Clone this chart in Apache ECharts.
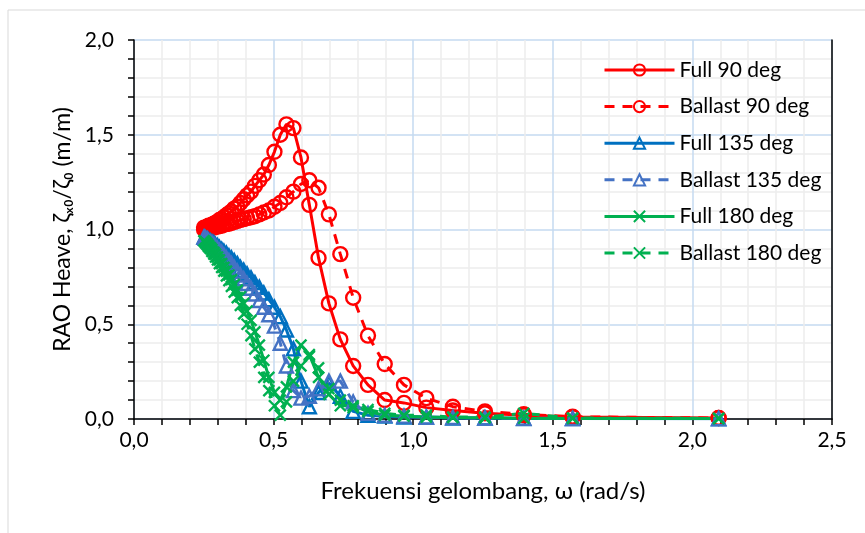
<!DOCTYPE html>
<html><head><meta charset="utf-8">
<script src="https://cdn.jsdelivr.net/npm/echarts@6/dist/echarts.min.js"></script>
<style>html,body{margin:0;padding:0;background:#fff}#c{width:865px;height:533px}</style>
</head><body><div id="c"></div>
<script>
// Wave frequency (rad/s)
const omega = [0.251,0.256,0.262,0.267,0.273,0.279,0.286,0.292,0.299,0.306,0.314,0.322,0.331,0.340,0.349,0.359,0.370,0.381,0.393,0.405,0.419,0.433,0.449,0.465,0.483,0.503,0.524,0.546,0.571,0.598,0.628,0.661,0.698,0.739,0.785,0.838,0.898,0.967,1.047,1.142,1.257,1.396,1.571,2.094];
const full90 = [1.01,1.01,1.015,1.02,1.02,1.025,1.03,1.035,1.04,1.05,1.055,1.065,1.075,1.085,1.095,1.11,1.12,1.14,1.16,1.18,1.20,1.23,1.26,1.29,1.34,1.41,1.50,1.555,1.535,1.38,1.13,0.85,0.61,0.42,0.28,0.18,0.10,0.085,0.06,0.045,0.03,0.02,0.01,0.005];
const ballast90 = [1.0,1.005,1.005,1.005,1.01,1.01,1.01,1.015,1.015,1.02,1.02,1.025,1.03,1.03,1.035,1.04,1.045,1.05,1.055,1.06,1.065,1.07,1.08,1.09,1.10,1.12,1.14,1.17,1.20,1.24,1.26,1.22,1.08,0.87,0.64,0.44,0.29,0.18,0.11,0.065,0.04,0.025,0.012,0.005];
const full135 = [0.96,0.955,0.95,0.945,0.94,0.935,0.93,0.92,0.915,0.905,0.895,0.885,0.875,0.86,0.85,0.835,0.82,0.80,0.785,0.765,0.745,0.72,0.695,0.665,0.63,0.59,0.54,0.47,0.37,0.20,0.065,0.14,0.19,0.12,0.04,0.02,0.015,0.01,0.01,0.005,0.005,0.003,0.002,0.001];
const ballast135 = [0.96,0.955,0.95,0.94,0.935,0.93,0.92,0.91,0.90,0.89,0.88,0.865,0.85,0.835,0.82,0.80,0.78,0.76,0.74,0.715,0.69,0.66,0.625,0.59,0.55,0.49,0.40,0.28,0.15,0.11,0.12,0.16,0.20,0.20,0.09,0.03,0.02,0.015,0.01,0.008,0.005,0.004,0.003,0.002];
const full180 = [0.94,0.935,0.925,0.915,0.905,0.895,0.88,0.87,0.855,0.84,0.82,0.80,0.78,0.76,0.735,0.71,0.68,0.645,0.61,0.57,0.52,0.46,0.39,0.31,0.22,0.14,0.10,0.17,0.30,0.39,0.34,0.22,0.13,0.07,0.07,0.04,0.02,0.015,0.01,0.008,0.006,0.004,0.003,0.002];
const ballast180 = [0.94,0.93,0.92,0.91,0.90,0.885,0.87,0.855,0.84,0.82,0.80,0.78,0.755,0.73,0.70,0.67,0.64,0.60,0.555,0.50,0.44,0.37,0.30,0.22,0.15,0.07,0.02,0.09,0.20,0.28,0.33,0.27,0.16,0.10,0.06,0.05,0.03,0.02,0.02,0.01,0.01,0.03,0.005,0.003];
const seriesNames = ['Full 90 deg','Ballast 90 deg','Full 135 deg','Ballast 135 deg','Full 180 deg','Ballast 180 deg'];
const xTicks = ['0,0','0,5','1,0','1,5','2,0','2,5'];
const yTicks = ['0,0','0,5','1,0','1,5','2,0'];

const RED = '#FF0000', BLUE1 = '#0070C0', BLUE2 = '#4472C4', GREEN = '#00B050';
const XSYM = 'path://M0,0 L10,10 M10,0 L0,10';
const DASH = [10, 8];
const FONT = 'Lato, "Open Sans", sans-serif';

function mk(name, vals, color, symbol, dashed, size) {
  return {
    name: name, type: 'line',
    data: omega.map((w, i) => [w, vals[i]]),
    symbol: symbol, symbolSize: size,
    showSymbol: true,
    lineStyle: { color: color, width: 3, type: dashed ? DASH : 'solid' },
    itemStyle: { color: symbol === XSYM ? color : 'rgba(255,255,255,0)', borderColor: color, borderWidth: 2.4 },
    emphasis: { disabled: true },
    animation: false
  };
}

const chart = echarts.init(document.getElementById('c'), null, { renderer: 'canvas' });
chart.setOption({
  backgroundColor: '#fff',
  textStyle: { fontFamily: FONT },
  grid: { left: 134, top: 40, width: 698, height: 379 },
  graphic: [
    { type: 'rect', shape: { x: 8, y: 10, width: 900, height: 600 }, style: { fill: 'none', stroke: '#D9D9D9', lineWidth: 1 }, silent: true, z: -10 }
  ],
  xAxis: {
    type: 'value', min: 0, max: 2.5, interval: 0.5,
    name: 'Frekuensi gelombang, ω (rad/s)', nameLocation: 'middle', nameGap: 60,
    nameTextStyle: { fontSize: 24, color: '#000', fontFamily: FONT },
    axisLine: { show: true, onZero: false, lineStyle: { color: '#000', width: 1.5 } },
    axisTick: { show: true, inside: false, length: 6, lineStyle: { color: '#000', width: 1.5 } },
    minorTick: { show: true, splitNumber: 5, length: 6, lineStyle: { color: '#000', width: 1.5 } },
    axisLabel: { formatter: (v) => xTicks[Math.round(v / 0.5)], fontSize: 21, color: '#000', margin: 11, fontFamily: FONT },
    splitLine: { show: true, lineStyle: { color: '#C5DAF0', width: 1.5 } },
    minorSplitLine: { show: true, lineStyle: { color: '#EDEDED', width: 1.5 } }
  },
  yAxis: [{
    type: 'value', min: 0, max: 2, interval: 0.5,
    name: 'RAO Heave, ζₓ₀/ζ₀ (m/m)', nameLocation: 'middle', nameGap: 59, nameRotate: 90,
    nameTextStyle: { fontSize: 23, color: '#000', fontFamily: FONT },
    axisLine: { show: true, lineStyle: { color: '#000', width: 1.5 } },
    axisTick: { show: true, inside: false, length: 6, lineStyle: { color: '#000', width: 1.5 } },
    minorTick: { show: true, splitNumber: 5, length: 6, lineStyle: { color: '#000', width: 1.5 } },
    axisLabel: { formatter: (v) => yTicks[Math.round(v / 0.5)], fontSize: 21, color: '#000', margin: 20, fontFamily: FONT },
    splitLine: { show: true, lineStyle: { color: '#C5DAF0', width: 1.5 } },
    minorSplitLine: { show: true, lineStyle: { color: '#EDEDED', width: 1.5 } }
  }, {
    type: 'value', min: 0, max: 2, interval: 0.5, position: 'right',
    axisLine: { show: true, lineStyle: { color: '#000', width: 1.5 } },
    axisTick: { show: false }, axisLabel: { show: false }, splitLine: { show: false }
  }],
  legend: {
    orient: 'vertical', left: 598, top: 53,
    itemWidth: 70, itemHeight: 14, itemGap: 12.6,
    lineStyle: { width: 3 },
    textStyle: { fontSize: 21, color: '#000', fontFamily: FONT, lineHeight: 24 },
    data: seriesNames
  },
  series: [
    mk(seriesNames[0], full90, RED, 'circle', false, 14),
    mk(seriesNames[1], ballast90, RED, 'circle', true, 14),
    mk(seriesNames[2], full135, BLUE1, 'triangle', false, 13),
    mk(seriesNames[3], ballast135, BLUE2, 'triangle', true, 13),
    mk(seriesNames[4], full180, GREEN, XSYM, false, 11),
    mk(seriesNames[5], ballast180, GREEN, XSYM, true, 11)
  ]
});
</script></body></html>
